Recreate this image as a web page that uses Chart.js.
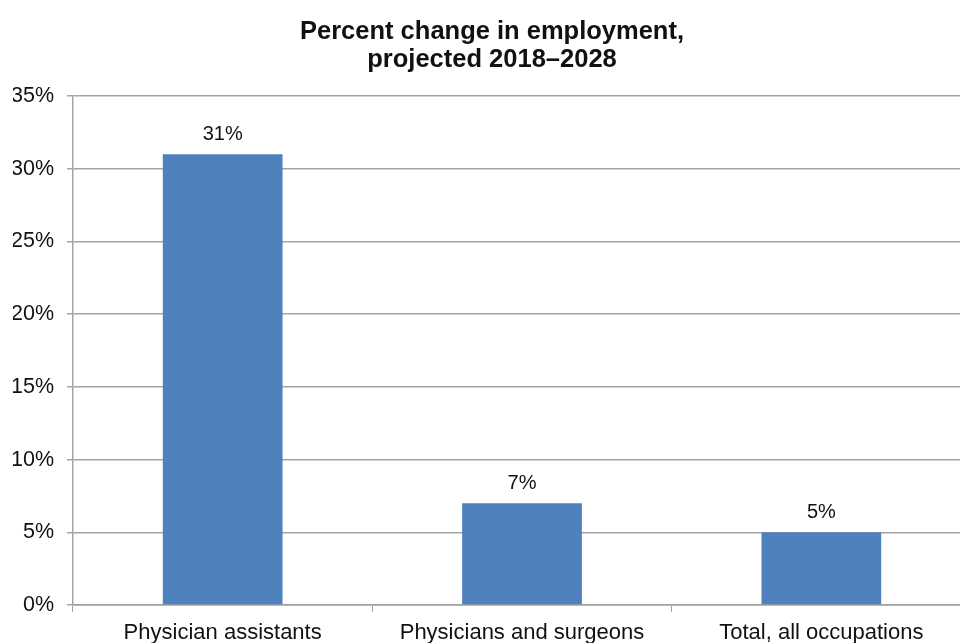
<!DOCTYPE html>
<html>
<head>
<meta charset="utf-8">
<script src="https://cdn.jsdelivr.net/npm/chart.js@4/dist/chart.umd.min.js"></script>
<style>
html,body{margin:0;padding:0;background:#fff;overflow:hidden;}
#wrap{width:960px;height:643px;position:relative;overflow:hidden;}
#c{display:block;}
</style>
</head>
<body>
<div id="wrap"><canvas id="c" width="971" height="643"></canvas></div>
<script>
const categories = ["Physician assistants", "Physicians and surgeons", "Total, all occupations"];
const values = [31, 7, 5];
const titleLines = ["Percent change in employment,", "projected 2018\u20132028"];

const valueLabels = {
  id: 'valueLabels',
  afterDatasetsDraw(chart) {
    const ctx = chart.ctx;
    const meta = chart.getDatasetMeta(0);
    ctx.save();
    ctx.font = '20px "Liberation Sans", Arial, sans-serif';
    ctx.fillStyle = '#111';
    ctx.textAlign = 'center';
    ctx.textBaseline = 'alphabetic';
    meta.data.forEach((bar, i) => {
      ctx.fillText(values[i] + '%', bar.x, bar.y - 14);
    });
    ctx.restore();
  }
};

new Chart(document.getElementById('c'), {
  type: 'bar',
  data: {
    labels: categories,
    datasets: [{
      data: values,
      backgroundColor: '#4f81bd',
      borderWidth: 0,
      barPercentage: 0.40,
      categoryPercentage: 1.0
    }]
  },
  options: {
    responsive: false,
    animation: false,
    devicePixelRatio: 1,
    layout: { padding: { left: 13, right: 0, top: 0, bottom: 0 } },
    plugins: {
      legend: { display: false },
      tooltip: { enabled: false },
      title: {
        display: true,
        text: titleLines,
        color: '#111',
        font: { family: '"Liberation Sans", Arial, sans-serif', size: 25.5, weight: 'bold', lineHeight: 1.1 },
        padding: { top: 18, bottom: 22 }
      }
    },
    scales: {
      x: {
        grid: { drawOnChartArea: false, color: '#a0a0a0', tickLength: 7, offset: true },
        border: { color: '#a0a0a0', width: 1.5 },
        ticks: {
          color: '#111',
          font: { family: '"Liberation Sans", Arial, sans-serif', size: 22 },
          padding: 8,
          maxRotation: 0
        },
        afterFit(scale) { scale.height = 38; }
      },
      y: {
        min: 0, max: 35,
        ticks: {
          stepSize: 5,
          color: '#111',
          font: { family: '"Liberation Sans", Arial, sans-serif', size: 21.5 },
          padding: 13,
          callback: v => v + '%'
        },
        grid: { color: '#a4a4a4', lineWidth: 1.5, tickLength: 6 },
        border: { color: '#a4a4a4', width: 1.5 },
        afterFit(scale) { scale.width = 60; }
      }
    }
  },
  plugins: [valueLabels]
});
</script>
</body>
</html>
